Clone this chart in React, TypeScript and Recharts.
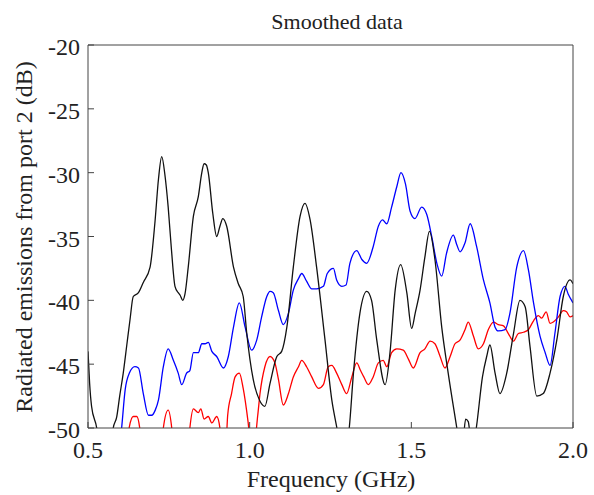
import { LineChart, Line, XAxis, YAxis } from "recharts";

// [frequency GHz, dB]
const blackTrace: [number, number][] = [
  [0.5, -44], [0.505, -46.5], [0.511, -48.3], [0.527, -50], [0.535, -51.5], [0.57, -51.5], [0.578, -50],
  [0.589, -49.1], [0.598, -47.5], [0.609, -45.7], [0.62, -43.5], [0.63, -41.5], [0.64, -39.7], [0.656, -39.4],
  [0.671, -38.6], [0.692, -37.4], [0.707, -33.9], [0.718, -30.5], [0.728, -28.75], [0.738, -30.2], [0.748, -32.7],
  [0.758, -36], [0.769, -38.9], [0.779, -39.4], [0.785, -39.6], [0.793, -40.0], [0.8, -39.5], [0.81, -37.4],
  [0.826, -33.4], [0.841, -31.9], [0.852, -30], [0.859, -29.3], [0.866, -29.4], [0.872, -30.0], [0.886, -33.2],
  [0.898, -35.0], [0.908, -34.2], [0.917, -33.6], [0.929, -34.2], [0.95, -37.4], [0.965, -38.7], [0.98, -39.7],
  [0.991, -42.6], [1.011, -46.2], [1.032, -47.9], [1.047, -48.3], [1.063, -46.5], [1.084, -44.4], [1.099, -44.0],
  [1.115, -42.1], [1.135, -37.4], [1.156, -33.4], [1.171, -32.4], [1.187, -33.7], [1.207, -37.4], [1.233, -43.1],
  [1.254, -47.8], [1.269, -49.9], [1.28, -51.5], [1.3, -51.5], [1.308, -50], [1.321, -45.7], [1.341, -41.0],
  [1.362, -39.3], [1.377, -40.0], [1.393, -43.1], [1.419, -46.6], [1.434, -44.1], [1.45, -39.2], [1.467, -37.2],
  [1.486, -39.4], [1.501, -42.2], [1.512, -41], [1.527, -39.2], [1.542, -36.6], [1.556, -34.6], [1.573, -36.8],
  [1.594, -42.1], [1.614, -45.7], [1.64, -49.9], [1.65, -51.5], [1.66, -51], [1.668, -49.3], [1.676, -49.5],
  [1.685, -51], [1.695, -51], [1.702, -49.8], [1.72, -46], [1.733, -44.4], [1.743, -43.5], [1.759, -45.7],
  [1.774, -47.3], [1.795, -45.7], [1.816, -42.6], [1.836, -40.0], [1.852, -40.5], [1.867, -43.6], [1.888, -47.5],
  [1.908, -47.3], [1.929, -45.7], [1.95, -43.1], [1.97, -39.7], [1.991, -38.4], [2.0, -38.7],
];

const blueTrace: [number, number][] = [
  [0.6, -51], [0.604, -50], [0.615, -47], [0.628, -45.7], [0.645, -45.2], [0.656, -45.3], [0.671, -47.3],
  [0.687, -49.0], [0.697, -49.0], [0.708, -48.6], [0.718, -47.8], [0.733, -45.2], [0.748, -43.8], [0.764, -44.7],
  [0.779, -45.7], [0.79, -46.6], [0.805, -45.7], [0.815, -45.5], [0.826, -44.1], [0.841, -44.1], [0.852, -43.4],
  [0.862, -43.4], [0.872, -43.3], [0.883, -44.0], [0.898, -44.4], [0.919, -45.3], [0.934, -44.4], [0.95, -42.1],
  [0.968, -40.2], [0.986, -42.1], [1.006, -43.9], [1.022, -43.1], [1.037, -41.3], [1.053, -39.7], [1.063, -39.3],
  [1.073, -39.4], [1.089, -40.8], [1.104, -41.9], [1.12, -41.0], [1.135, -39.2], [1.151, -38.3], [1.161, -37.9],
  [1.176, -38.5], [1.192, -39.1], [1.207, -39.1], [1.228, -38.9], [1.24, -37.9], [1.259, -37.5], [1.269, -38.4],
  [1.285, -38.9], [1.298, -38.8], [1.31, -37.1], [1.331, -36.1], [1.347, -36.8], [1.362, -37.1], [1.382, -35.8],
  [1.398, -34.2], [1.411, -33.7], [1.424, -34.0], [1.439, -32.7], [1.455, -31.1], [1.468, -30.0], [1.482, -30.9],
  [1.496, -33.0], [1.511, -33.6], [1.532, -32.7], [1.548, -33.3], [1.563, -35.0], [1.579, -37.1], [1.594, -38.1],
  [1.609, -36.3], [1.63, -34.9], [1.64, -35.6], [1.651, -36.2], [1.666, -35.5], [1.682, -34.0], [1.702, -35.8],
  [1.723, -38.4], [1.743, -40.2], [1.759, -42.1], [1.769, -42.4], [1.79, -42.3], [1.805, -41.0], [1.826, -37.4],
  [1.847, -36.1], [1.862, -37.6], [1.878, -40.2], [1.898, -42.8], [1.914, -44.1], [1.929, -45.1], [1.944, -42.6],
  [1.96, -39.7], [1.975, -38.9], [1.985, -39.5], [2.0, -40.2],
];

const redTrace: [number, number][] = [
  [0.5, -52], [0.62, -52], [0.628, -49.9], [0.64, -49.1], [0.651, -49.1], [0.66, -50], [0.668, -52], [0.725, -52],
  [0.733, -50], [0.748, -48.6], [0.759, -50], [0.766, -52], [0.808, -52], [0.815, -50], [0.826, -48.5],
  [0.841, -48.8], [0.849, -48.5], [0.859, -49.3], [0.872, -49.1], [0.883, -49.6], [0.898, -49.1], [0.908, -50],
  [0.915, -52], [0.925, -52], [0.932, -49], [0.944, -47.3], [0.955, -46.0], [0.968, -45.7], [0.98, -46.9],
  [0.995, -49.5], [1.002, -51], [1.015, -51], [1.025, -49], [1.032, -47.3], [1.047, -45.2], [1.063, -44.4],
  [1.078, -44.9], [1.089, -46.2], [1.104, -48.2], [1.12, -47.3], [1.135, -46.0], [1.151, -45.2], [1.161, -44.7],
  [1.176, -45.2], [1.192, -46.0], [1.213, -46.9], [1.228, -46.6], [1.243, -45.2], [1.254, -45.1], [1.269, -45.7],
  [1.285, -46.6], [1.3, -47.3], [1.316, -46.0], [1.331, -44.9], [1.343, -45.5], [1.353, -46.0], [1.367, -46.6],
  [1.382, -46.0], [1.398, -44.9], [1.413, -44.7], [1.424, -45.2], [1.439, -44.1], [1.455, -43.8], [1.475, -43.9],
  [1.491, -44.6], [1.506, -45.3], [1.527, -44.1], [1.542, -43.8], [1.558, -43.2], [1.573, -43.4], [1.589, -44.4],
  [1.604, -45.3], [1.62, -44.4], [1.635, -43.4], [1.651, -43.1], [1.666, -42.3], [1.676, -41.7], [1.692, -42.8],
  [1.707, -43.8], [1.723, -43.4], [1.738, -42.3], [1.754, -41.7], [1.769, -41.9], [1.785, -42.0], [1.8, -42.6],
  [1.816, -43.2], [1.831, -42.6], [1.847, -42.5], [1.862, -42.3], [1.878, -41.6], [1.893, -41.2], [1.903, -41.4],
  [1.917, -40.9], [1.929, -41.8], [1.939, -41.7], [1.955, -41.3], [1.97, -40.8], [1.98, -40.9], [1.991, -41.3],
  [2.0, -41.2],
];

const freqTicks = [0.5, 1.0, 1.5, 2.0];
const dbTicks = [-50, -45, -40, -35, -30, -25, -20];

const FONT = "Liberation Serif";
const AXIS = "#444";
const TEXT = "#222";
const TICK_LEN = 6;

const toPoints = (arr: [number, number][]) => arr.map(([f, v]) => ({ f, v }));

const BottomTick = (p: any) => (
  <g>
    <line x1={p.x} x2={p.x} y1={p.y - 6} y2={p.y - 6 - TICK_LEN} stroke={AXIS} />
    <text x={p.x} y={p.y} dy="1em" textAnchor="middle" fontFamily={FONT} fontSize={24} fill={TEXT}>
      {Number(p.payload.value).toFixed(1)}
    </text>
  </g>
);

const LeftTick = (p: any) => (
  <g>
    <line x1={p.x + 8} x2={p.x + 8 + TICK_LEN} y1={p.y} y2={p.y} stroke={AXIS} />
    <text x={p.x} y={p.y} dy="0.42em" textAnchor="end" fontFamily={FONT} fontSize={24} fill={TEXT}>
      {p.payload.value}
    </text>
  </g>
);

const TopTick = (p: any) => <line x1={p.x} x2={p.x} y1={p.y} y2={p.y + TICK_LEN} stroke={AXIS} />;
const RightTick = (p: any) => <line x1={p.x} x2={p.x - TICK_LEN} y1={p.y} y2={p.y} stroke={AXIS} />;

export default function App() {
  return (
    <div style={{ position: "absolute", left: 0, top: 0, width: 594, height: 495 }}>
      <svg width={594} height={40} style={{ position: "absolute", left: 0, top: 0 }}>
        <text x={337} y={29} textAnchor="middle" fontFamily={FONT} fontSize={22} fill={TEXT}>
          Smoothed data
        </text>
      </svg>
      <LineChart width={594} height={495} margin={{ top: 44, right: 20, bottom: 7, left: 8 }}>
        <XAxis
          xAxisId="b"
          dataKey="f"
          type="number"
          domain={[0.5, 2.0]}
          ticks={freqTicks}
          allowDataOverflow
          height={60}
          tickSize={0}
          tickMargin={6}
          tick={<BottomTick />}
          stroke={AXIS}
          label={{
            content: () => (
              <text x={331} y={487} textAnchor="middle" fontFamily={FONT} fontSize={24} fill={TEXT}>
                Frequency (GHz)
              </text>
            ),
          }}
        />
        <XAxis
          xAxisId="t"
          orientation="top"
          dataKey="f"
          type="number"
          domain={[0.5, 2.0]}
          ticks={freqTicks}
          height={1}
          tickSize={0}
          tickMargin={0}
          tick={<TopTick />}
          stroke={AXIS}
        />
        <YAxis
          yAxisId="l"
          dataKey="v"
          type="number"
          domain={[-50, -20]}
          ticks={dbTicks}
          allowDataOverflow
          width={80}
          tickSize={0}
          tickMargin={8}
          tick={<LeftTick />}
          stroke={AXIS}
          label={{
            content: () => (
              <text
                x={0}
                y={0}
                transform="translate(24, 237) rotate(-90)"
                dy="0.35em"
                textAnchor="middle"
                fontFamily={FONT}
                fontSize={24}
                fill={TEXT}
              >
                Radiated emissions from port 2 (dB)
              </text>
            ),
          }}
        />
        <YAxis
          yAxisId="r"
          orientation="right"
          dataKey="v"
          type="number"
          domain={[-50, -20]}
          ticks={dbTicks}
          width={1}
          tickSize={0}
          tickMargin={0}
          tick={<RightTick />}
          stroke={AXIS}
        />
        <Line
          xAxisId="b"
          yAxisId="l"
          data={toPoints(redTrace)}
          dataKey="v"
          type="monotone"
          stroke="#ff0000"
          strokeWidth={1.3}
          dot={false}
          isAnimationActive={false}
        />
        <Line
          xAxisId="b"
          yAxisId="l"
          data={toPoints(blueTrace)}
          dataKey="v"
          type="monotone"
          stroke="#0000ff"
          strokeWidth={1.3}
          dot={false}
          isAnimationActive={false}
        />
        <Line
          xAxisId="b"
          yAxisId="l"
          data={toPoints(blackTrace)}
          dataKey="v"
          type="monotone"
          stroke="#111"
          strokeWidth={1.3}
          dot={false}
          isAnimationActive={false}
        />
      </LineChart>
    </div>
  );
}
